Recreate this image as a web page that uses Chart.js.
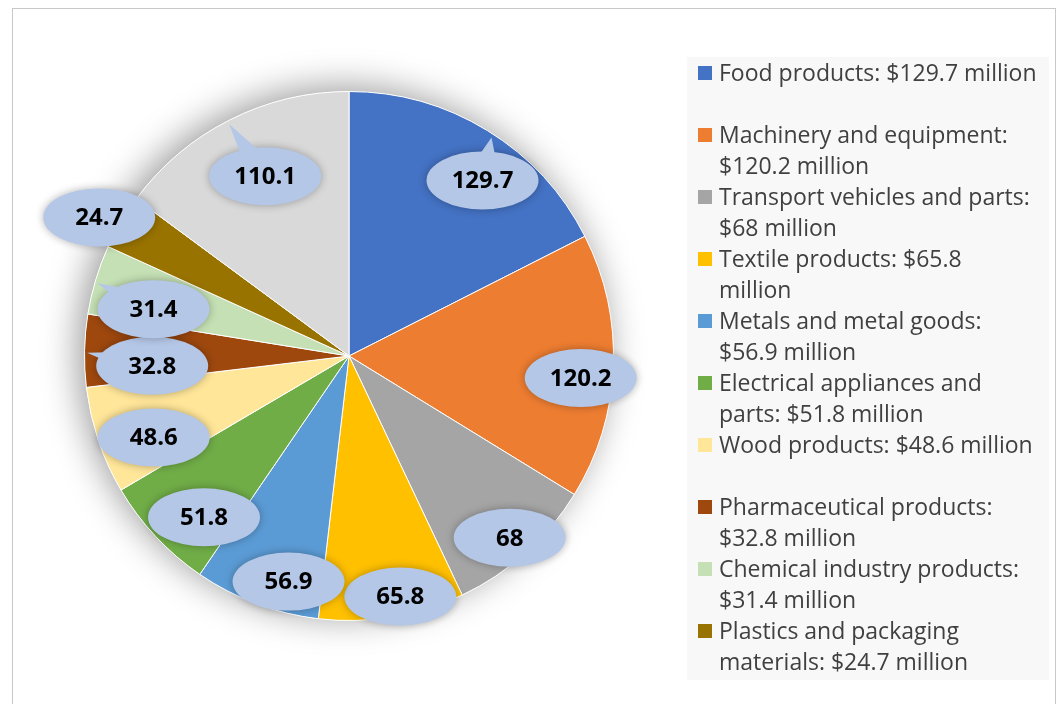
<!DOCTYPE html>
<html>
<head>
<meta charset="utf-8">
<script src="https://cdn.jsdelivr.net/npm/chart.js@4.4.0/dist/chart.umd.min.js"></script>
<style>
  html, body { margin: 0; padding: 0; background: #fff; }
  #wrap { position: relative; width: 1060px; height: 704px; overflow: hidden; }
  #frame { position: absolute; left: 12px; top: 8px; width: 1044px; height: 720px; border: 1px solid #c8c8c8; box-sizing: border-box; }
  #chartBox { position: absolute; left: 0; top: 0; width: 1060px; height: 704px; }
  #legend { position: absolute; left: 687px; top: 57px; width: 362px; height: 623px; background: #f8f8f8;
            font-family: "Open Sans", sans-serif; font-size: 23px; color: #404040; }
  .item { position: relative; height: 62px; line-height: 31px; padding-left: 32px; width: 319px; }
  .item i { position: absolute; left: 11px; top: 9px; width: 14px; height: 14px; }
</style>
</head>
<body>
<div id="wrap">
  <div id="frame"></div>
  <div id="chartBox"><canvas id="pieChart"></canvas></div>
  <div id="legend"></div>
</div>
<script>
// Export categories (last slice "Other" has no legend entry in the original)
const categories = ['Food products', 'Machinery and equipment', 'Transport vehicles and parts',
  'Textile products', 'Metals and metal goods', 'Electrical appliances and parts',
  'Wood products', 'Pharmaceutical products', 'Chemical industry products',
  'Plastics and packaging materials', 'Other'];
const values = [129.7, 120.2, 68, 65.8, 56.9, 51.8, 48.6, 32.8, 31.4, 24.7, 110.1];
const inLegend = [true, true, true, true, true, true, true, true, true, true, false];

const colors = ['#4472C4', '#ED7D31', '#A5A5A5', '#FFC000', '#5B9BD5', '#70AD47',
  '#FFE699', '#9E480E', '#C5E0B4', '#997300', '#D9D9D9'];
// label placement: distance (fraction of radius) and angle nudge (deg) from slice middle
const labelDist = [0.834, 0.88, 0.917, 0.93, 0.883, 0.82, 0.80, 0.745, 0.76, 1.08, 0.75];
const labelTurn = [5.7, 3.1, 0.4, -2.7, -5.5, -5, -4, -4, -3.3, -1.4, 1.8];
// callout pointer tips, offset from label centre
const tips = {0: [9, -43], 10: [-36, -52], 8: [-56, -26], 7: [-65, -13]};

// html legend
const legendEl = document.getElementById('legend');
categories.forEach((c, i) => {
  if (!inLegend[i]) return;
  const d = document.createElement('div');
  d.className = 'item';
  d.innerHTML = '<i style="background:' + colors[i] + '"></i>' + c + ': $' + values[i] + ' million';
  legendEl.appendChild(d);
});

const pieBack = {
  id: 'pieBack',
  beforeDatasetsDraw(chart) {
    const arc = chart.getDatasetMeta(0).data[0];
    const c = chart.ctx;
    c.save();
    c.shadowColor = 'rgba(0,0,0,0.4)';
    c.shadowBlur = 36;
    c.shadowOffsetX = -6;
    c.shadowOffsetY = -4;
    c.fillStyle = '#fff';
    c.beginPath();
    c.arc(arc.x, arc.y, arc.outerRadius, 0, Math.PI * 2);
    c.fill();
    c.restore();
  }
};

const callouts = {
  id: 'callouts',
  afterDatasetsDraw(chart) {
    const c = chart.ctx;
    chart.getDatasetMeta(0).data.forEach((arc, i) => {
      const mid = (arc.startAngle + arc.endAngle) / 2 + labelTurn[i] * Math.PI / 180;
      const r = arc.outerRadius * labelDist[i];
      const x = arc.x + Math.cos(mid) * r;
      const y = arc.y + Math.sin(mid) * r;
      c.save();
      c.fillStyle = '#B4C7E7';
      c.shadowColor = 'rgba(0,0,0,0.3)';
      c.shadowBlur = 8;
      c.beginPath();
      c.ellipse(x, y, 56, 29, 0, 0, Math.PI * 2);
      c.fill();
      if (tips[i]) {
        const [tx, ty] = tips[i];
        const a = Math.atan2(ty, tx);
        const n = a + Math.PI / 2;
        const bx = x + Math.cos(a) * 18, by = y + Math.sin(a) * 18;
        c.shadowBlur = 0;
        c.beginPath();
        c.moveTo(bx + Math.cos(n) * 11, by + Math.sin(n) * 11);
        c.lineTo(x + tx, y + ty);
        c.lineTo(bx - Math.cos(n) * 11, by - Math.sin(n) * 11);
        c.closePath();
        c.fill();
      }
      c.restore();
      c.save();
      c.fillStyle = '#000';
      c.font = 'bold 24px "Open Sans", sans-serif';
      c.textAlign = 'center';
      c.textBaseline = 'middle';
      c.fillText(String(values[i]), x, y + 1);
      c.restore();
    });
  }
};

new Chart(document.getElementById('pieChart'), {
  type: 'pie',
  data: {
    labels: categories,
    datasets: [{
      data: values,
      backgroundColor: colors,
      borderColor: '#fff',
      borderWidth: 1
    }]
  },
  options: {
    responsive: true,
    maintainAspectRatio: false,
    animation: false,
    layout: { padding: { left: 84, right: 446, top: 91, bottom: 83 } },
    plugins: {
      legend: { display: false },
      tooltip: { enabled: false }
    }
  },
  plugins: [pieBack, callouts]
});
</script>
</body>
</html>
